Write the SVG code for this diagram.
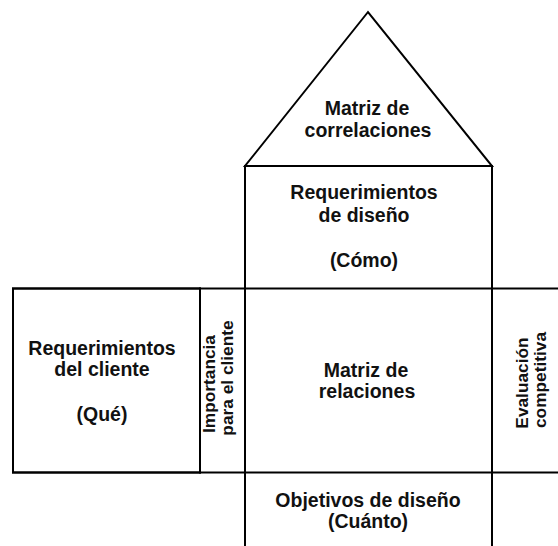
<svg xmlns="http://www.w3.org/2000/svg" width="558" height="546" viewBox="0 0 558 546">
<style>
.ln{fill:none;stroke:#000;stroke-width:2;stroke-linecap:square}
.t{font-family:"Liberation Sans",Arial,sans-serif;font-weight:bold;font-size:19.5px;fill:#111;text-anchor:middle}
.v{font-family:"Liberation Sans",Arial,sans-serif;font-weight:bold;font-size:17.3px;fill:#111;text-anchor:middle}
</style>
<rect width="558" height="546" fill="#fff"/>
<g id="connectors">
<line class="ln" x1="13" y1="288.5" x2="558" y2="288.5"/>
<line class="ln" x1="13" y1="472.5" x2="558" y2="472.5"/>
<line class="ln" x1="245" y1="166" x2="245" y2="546"/>
<line class="ln" x1="492" y1="166" x2="492" y2="546"/>
</g>
<g id="roof">
<polygon class="ln" points="368,12 245,166 492,166" stroke-linejoin="miter"/>
<text class="t" x="367" y="115">Matriz de</text>
<text class="t" x="368" y="137">correlaciones</text>
</g>
<g id="design-req">
<text class="t" x="364" y="199">Requerimientos</text>
<text class="t" x="364" y="222">de diseño</text>
<text class="t" x="364" y="267">(Cómo)</text>
</g>
<g id="customer-req">
<rect class="ln" x="13" y="288.5" width="187" height="184"/>
<text class="t" x="102" y="355">Requerimientos</text>
<text class="t" x="102" y="376">del cliente</text>
<text class="t" x="102" y="421">(Qué)</text>
</g>
<g id="importance">
<line class="ln" x1="200" y1="288.5" x2="200" y2="472.5"/>
<text class="v" transform="translate(215,384) rotate(-90)">Importancia</text>
<text class="v" transform="translate(233,378) rotate(-90)">para el cliente</text>
</g>
<g id="relations">
<text class="t" x="366" y="377">Matriz de</text>
<text class="t" x="367" y="398">relaciones</text>
</g>
<g id="competitive">
<text class="v" transform="translate(528,383) rotate(-90)">Evaluación</text>
<text class="v" transform="translate(546,380) rotate(-90)">competitiva</text>
</g>
<g id="targets">
<text class="t" x="368" y="507">Objetivos de diseño</text>
<text class="t" x="368" y="528">(Cuánto)</text>
</g>
</svg>
